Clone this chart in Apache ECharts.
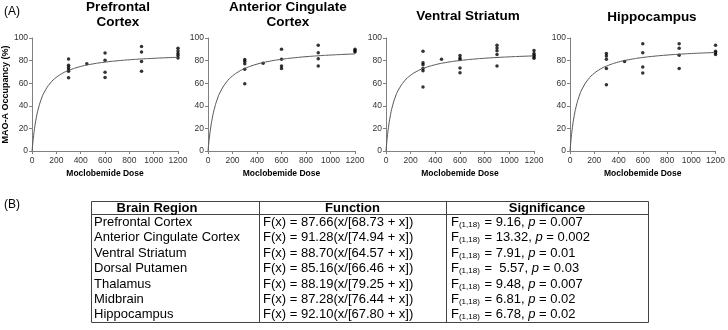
<!DOCTYPE html>
<html>
<head>
<meta charset="utf-8">
<script src="https://cdn.jsdelivr.net/npm/echarts@6/dist/echarts.min.js"></script>
<style>
html,body{margin:0;padding:0;background:#fff;}
#main{width:728px;height:330px;}
</style>
</head>
<body>
<div id="main"></div>
<script>
// ---------- data ----------
const plotTitles = ['Prefrontal\nCortex', 'Anterior Cingulate\nCortex', 'Ventral Striatum', 'Hippocampus'];
const plotTableRow = [0, 1, 2, 6];
const xTickMin = 0, xTickMax = 1200, xTickStep = 200;
const yTickMin = 0, yTickMax = 100, yTickStep = 20;

const pfcDose = [300,300,300,300,300,300,450,600,600,600,600,900,900,900,900,1200,1200,1200,1200,1200];
const pfcOcc  = [81.4,75.8,73.8,72,70.5,64.9,77.3,86.7,80.3,69.7,65,92.5,87.6,79.2,70.5,91,88.5,86.2,84.5,82.2];

const accDose = [300,300,300,300,300,450,600,600,600,600,900,900,900,900,1200,1200,1200];
const accOcc  = [80.9,79.4,77.3,72.3,59.6,77.6,90,81.1,75.2,72.9,93.5,87,81.7,75.2,90,88.7,87.6];

const vsDose = [300,300,300,300,300,300,450,600,600,600,600,600,900,900,900,900,900,1200,1200,1200,1200,1200];
const vsOcc  = [88.2,78.2,76.4,72.9,71.1,56.6,81.1,84.5,82.3,81,73.4,69.3,93.5,91.1,88.8,85.3,75.2,89,86.2,84.8,83.5,82];

const hipDose = [300,300,300,300,300,450,600,600,600,600,900,900,900,900,1200,1200,1200,1200];
const hipOcc  = [86.2,84,81.1,72.9,58.7,79.2,95,87,74.3,69.1,95,91,84.7,72.9,93.5,88.2,87,85.3];

const plotDose = [pfcDose, accDose, vsDose, hipDose];
const plotOcc = [pfcOcc, accOcc, vsOcc, hipOcc];

// table (B)
const tableRegions = ['Prefrontal Cortex','Anterior Cingulate Cortex','Ventral Striatum','Dorsal Putamen','Thalamus','Midbrain','Hippocampus'];
const tableEmax = [87.66, 91.28, 88.70, 85.16, 88.19, 87.28, 92.10];
const tableEd50 = [68.73, 74.94, 64.57, 66.46, 79.25, 76.44, 67.80];
const tableEmaxText = ['87.66','91.28','88.70','85.16','88.19','87.28','92.10'];
const tableEd50Text = ['68.73','74.94','64.57','66.46','79.25','76.44','67.80'];
const tableFText = ['9.16','13.32','7.91',' 5.57','9.48','6.81','6.78'];
const tablePText = ['0.007','0.002','0.01','0.03','0.007','0.02','0.02'];
const curveDoses = [0,2,5,10,20,35,50,75,100,150,200,250,300,400,500,600,700,800,900,1000,1100,1200];

// ---------- layout ----------
const grids = [
  {left: 30, top: 38, width: 148, height: 113},
  {left: 208, top: 38, width: 147, height: 113},
  {left: 386, top: 38, width: 148, height: 113},
  {left: 570, top: 38, width: 148, height: 113}
];
const titlePos = [[118, 15], [288, 15], [468, 16], [652, 17]];
const FONT = '"Liberation Sans", Arial, sans-serif';

const xAxes = [], yAxes = [], series = [];
grids.forEach((g, i) => {
  xAxes.push({
    gridIndex: i, type: 'value', min: xTickMin, max: xTickMax, interval: xTickStep,
    name: 'Moclobemide Dose', nameLocation: 'middle', nameGap: 18,
    nameTextStyle: {fontFamily: FONT, fontWeight: 'bold', fontSize: 8.5, color: '#000'},
    axisLine: {show: true, onZero: false, lineStyle: {color: '#808080', width: 1}},
    axisTick: {show: true, length: 3, lineStyle: {color: '#808080'}},
    axisLabel: {fontFamily: FONT, fontSize: 8.5, color: '#333', margin: 5, formatter: v => String(v)},
    splitLine: {show: false}
  });
  yAxes.push({
    gridIndex: i, type: 'value', min: yTickMin, max: yTickMax, interval: yTickStep,
    name: i === 0 ? 'MAO-A Occupancy (%)' : '', nameLocation: 'middle', nameGap: 19,
    nameTextStyle: {fontFamily: FONT, fontWeight: 'bold', fontSize: 9, color: '#000'},
    axisLine: {show: true, onZero: false, lineStyle: {color: '#808080', width: 1}},
    axisTick: {show: true, length: 3, lineStyle: {color: '#808080'}},
    axisLabel: {fontFamily: FONT, fontSize: 8.5, color: '#333', margin: 4, formatter: v => String(v)},
    splitLine: {show: false}
  });
  const r = plotTableRow[i];
  series.push({
    type: 'line', xAxisIndex: i, yAxisIndex: i, smooth: true, showSymbol: false, silent: true,
    lineStyle: {color: '#555', width: 1},
    data: curveDoses.map(d => [d, tableEmax[r] * d / (tableEd50[r] + d)])
  });
  series.push({
    type: 'scatter', xAxisIndex: i, yAxisIndex: i, symbol: 'circle', symbolSize: 3.5,
    itemStyle: {color: '#000'},
    data: plotDose[i].map((d, k) => [d, plotOcc[i][k]])
  });
});

// graphic: titles, panel labels, table
const graphic = [];
plotTitles.forEach((t, i) => {
  graphic.push({type: 'text', x: titlePos[i][0], y: titlePos[i][1],
    style: {text: t, align: 'center', verticalAlign: 'middle', fontFamily: FONT, fontWeight: 'bold', fontSize: 13.5, lineHeight: 15, fill: '#000'}});
});
graphic.push({type: 'text', x: 4, y: 12, style: {text: '(A)', verticalAlign: 'middle', fontFamily: FONT, fontSize: 12, fill: '#000'}});
graphic.push({type: 'text', x: 4, y: 205, style: {text: '(B)', verticalAlign: 'middle', fontFamily: FONT, fontSize: 12, fill: '#000'}});

const cx = [91, 259, 446, 648];
const tTop = 201, tHead = 214, tBot = 322;
const rowH = (tBot - tHead) / tableRegions.length;
const lineStyle = {stroke: '#444', lineWidth: 1};
graphic.push({type: 'rect', shape: {x: cx[0] + 0.5, y: tTop + 0.5, width: cx[3] - cx[0], height: tBot - tTop}, style: {fill: 'none', stroke: '#444', lineWidth: 1}});
graphic.push({type: 'line', shape: {x1: cx[0], y1: tHead + 0.5, x2: cx[3], y2: tHead + 0.5}, style: lineStyle});
graphic.push({type: 'line', shape: {x1: cx[1] + 0.5, y1: tTop, x2: cx[1] + 0.5, y2: tBot}, style: lineStyle});
graphic.push({type: 'line', shape: {x1: cx[2] + 0.5, y1: tTop, x2: cx[2] + 0.5, y2: tBot}, style: lineStyle});

const headY = (tTop + tHead) / 2 + 0.5;
const hStyle = {align: 'center', verticalAlign: 'middle', fontFamily: FONT, fontWeight: 'bold', fontSize: 13, fill: '#000'};
graphic.push({type: 'text', x: 157, y: headY, style: Object.assign({text: 'Brain Region'}, hStyle)});
graphic.push({type: 'text', x: (cx[1] + cx[2]) / 2, y: headY, style: Object.assign({text: 'Function'}, hStyle)});
graphic.push({type: 'text', x: (cx[2] + cx[3]) / 2, y: headY, style: Object.assign({text: 'Significance'}, hStyle)});

tableRegions.forEach((reg, i) => {
  const y = tHead + rowH * (i + 0.5) + 0.5;
  const base = {verticalAlign: 'middle', fontFamily: FONT, fontSize: 13, fill: '#000'};
  graphic.push({type: 'text', x: 94, y: y, style: Object.assign({text: reg}, base)});
  graphic.push({type: 'text', x: 263, y: y, style: Object.assign({text: 'F(x) = ' + tableEmaxText[i] + '(x/[' + tableEd50Text[i] + ' + x])'}, base)});
  graphic.push({type: 'text', x: 451, y: y, style: Object.assign({}, base, {
    text: '{n|F}{s|(1,18)}{n| = ' + tableFText[i] + ', }{i|p}{n| = ' + tablePText[i] + '}',
    rich: {
      n: {fontFamily: FONT, fontSize: 13, lineHeight: 15, verticalAlign: 'middle', fill: '#000'},
      s: {fontFamily: FONT, fontSize: 8, lineHeight: 9, verticalAlign: 'middle', fill: '#000', padding: [5, 1, 0, 0]},
      i: {fontFamily: FONT, fontSize: 13, fontStyle: 'italic', lineHeight: 15, verticalAlign: 'middle', fill: '#000'}
    }
  })});
});

const chart = echarts.init(document.getElementById('main'), null, {renderer: 'canvas'});
chart.setOption({
  animation: false,
  backgroundColor: '#fff',
  grid: grids,
  xAxis: xAxes,
  yAxis: yAxes,
  series: series,
  graphic: graphic
});
</script>
</body>
</html>
